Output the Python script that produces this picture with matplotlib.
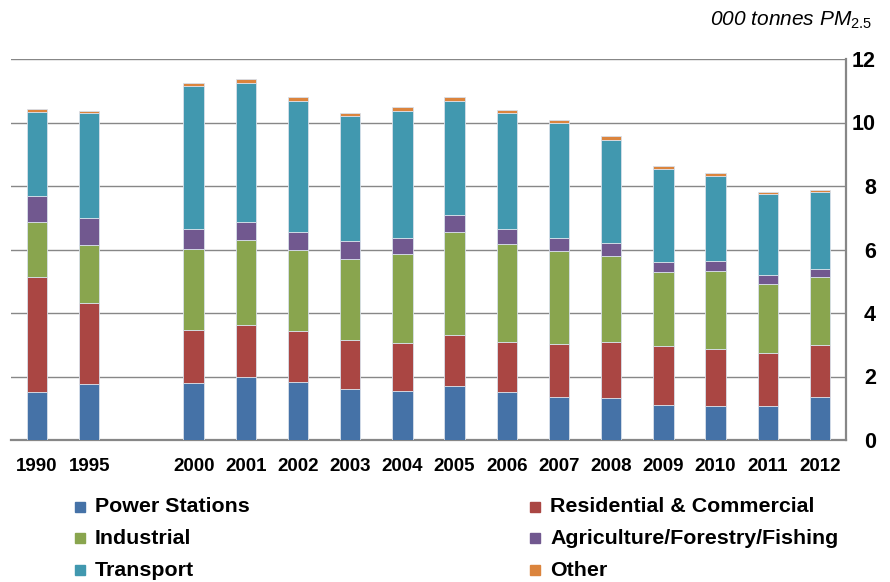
import numpy as np
import matplotlib
matplotlib.use("Agg")
import matplotlib.pyplot as plt
from matplotlib.patches import Rectangle

plt.rcParams['font.family'] = ['Liberation Sans', 'DejaVu Sans']
plt.rcParams['mathtext.fontset'] = 'custom'
plt.rcParams['mathtext.rm'] = 'Liberation Sans'
plt.rcParams['mathtext.it'] = 'Liberation Sans:italic'

# PM2.5 emissions by source, thousand tonnes
years = ["1990", "1995", "2000", "2001", "2002", "2003", "2004", "2005",
         "2006", "2007", "2008", "2009", "2010", "2011", "2012"]
# slot index on the category axis (one empty slot between 1995 and 2000)
slots = [0, 1, 3, 4, 5, 6, 7, 8, 9, 10, 11, 12, 13, 14, 15]

power = [1.50, 1.76, 1.80, 1.97, 1.83, 1.60, 1.53, 1.71, 1.50, 1.35, 1.31, 1.10, 1.08, 1.08, 1.34]
residential = [3.62, 2.57, 1.68, 1.66, 1.61, 1.56, 1.54, 1.61, 1.60, 1.68, 1.79, 1.85, 1.79, 1.65, 1.66]
industrial = [1.75, 1.81, 2.55, 2.67, 2.54, 2.53, 2.78, 3.24, 3.07, 2.93, 2.68, 2.33, 2.46, 2.19, 2.14]
agriculture = [0.80, 0.85, 0.63, 0.58, 0.56, 0.59, 0.52, 0.54, 0.47, 0.41, 0.42, 0.34, 0.30, 0.27, 0.24]
transport = [2.67, 3.30, 4.50, 4.37, 4.15, 3.91, 4.00, 3.59, 3.65, 3.61, 3.26, 2.93, 2.70, 2.57, 2.44]
other = [0.09, 0.07, 0.09, 0.12, 0.11, 0.12, 0.11, 0.11, 0.11, 0.11, 0.10, 0.09, 0.08, 0.06, 0.05]

series = [
    ("Power Stations", power, "#4572A7"),
    ("Residential & Commercial", residential, "#AA4643"),
    ("Industrial", industrial, "#89A54E"),
    ("Agriculture/Forestry/Fishing", agriculture, "#71588F"),
    ("Transport", transport, "#4198AF"),
    ("Other", other, "#DB843D"),
]

fig = plt.figure(figsize=(8.9, 5.82), dpi=100)
W, H = 890, 582
ax = fig.add_axes([11 / W, 1 - 440 / H, (846 - 11) / W, (440 - 59) / H])

bottom = np.zeros(len(years))
for name, vals, color in series:
    ax.bar(slots, vals, width=0.39, bottom=bottom, color=color,
           edgecolor="#d8e0ea", linewidth=0.6, zorder=3)
    bottom += np.array(vals)

ax.set_xlim(-0.5, 15.5)
ax.set_ylim(0, 12)
ax.set_yticks(range(0, 13, 2))
ax.yaxis.tick_right()
ax.yaxis.grid(True, color="#878787", linewidth=1.0, zorder=0)
ax.set_axisbelow(True)
ax.tick_params(axis="y", length=0, pad=21.5, labelsize=15.5)
for lab in ax.get_yticklabels():
    lab.set_fontweight("bold")
    lab.set_horizontalalignment("right")

ax.set_xticks(slots)
ax.set_xticklabels(years, fontsize=13.5, fontweight="bold")
ax.tick_params(axis="x", length=0, pad=13)

for side in ["left", "top"]:
    ax.spines[side].set_visible(False)
for side in ["right", "bottom"]:
    ax.spines[side].set_color("#878787")
    ax.spines[side].set_linewidth(1.6)

fig.text(872 / W, 1 - 26 / H, r"000 tonnes PM$_{\mathit{2.5}}$", ha="right",
         va="baseline", fontsize=15, fontstyle="italic")

# legend laid out in two columns below the axis
legend_pos = [(75, 507), (530, 507), (75, 538), (530, 538), (75, 570), (530, 570)]
for (name, vals, color), (lx, ly) in zip(series, legend_pos):
    fig.patches.append(Rectangle((lx / W, 1 - (ly + 5) / H), 10 / W, 10 / H,
                                 transform=fig.transFigure, color=color))
    fig.text((lx + 20) / W, 1 - ly / H, name, ha="left", va="center",
             fontsize=15.4, fontweight="bold")

fig.savefig("out.png", dpi=100)
